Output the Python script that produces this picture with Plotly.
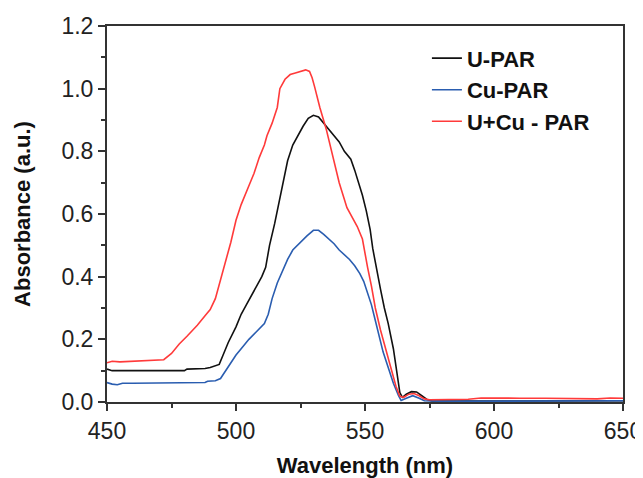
import plotly.graph_objects as go

# U-PAR (black)
u_wl = [450, 452, 460, 470, 480, 481, 488, 490, 492, 493.5, 495, 497, 500, 502, 504, 506, 508, 510,
        511.5, 513, 515, 517, 518.5, 520, 522, 524, 526, 528, 530, 532, 534, 536, 538, 540, 542,
        544.5, 546, 547.5, 549, 550.5, 552, 553, 554.5, 556, 557.5, 559, 561, 562.5, 563.5, 564.5,
        566, 568, 570, 572, 574, 576, 580, 590, 600, 610, 620, 630, 640, 650]
u_abs = [0.105, 0.100, 0.100, 0.100, 0.100, 0.105, 0.107, 0.110, 0.115, 0.120, 0.150, 0.190, 0.240,
         0.280, 0.310, 0.340, 0.370, 0.400, 0.430, 0.500, 0.570, 0.650, 0.720, 0.770, 0.820, 0.850,
         0.880, 0.905, 0.915, 0.910, 0.890, 0.870, 0.850, 0.830, 0.800, 0.775, 0.740, 0.700, 0.660,
         0.610, 0.550, 0.490, 0.420, 0.360, 0.300, 0.250, 0.170, 0.090, 0.030, 0.015, 0.025, 0.033,
         0.032, 0.020, 0.008, 0.003, 0.003, 0.003, 0.003, 0.004, 0.004, 0.003, 0.003, 0.004]

# Cu-PAR (blue)
cu_wl = [450, 452, 454, 456, 460, 470, 480, 488, 489, 492, 494, 496, 498, 500, 502, 505, 508, 511,
         512.5, 514, 516, 518, 520, 522, 525, 527.5, 530, 532, 534, 536, 538, 540, 542, 544, 546,
         548, 549.5, 551, 552.5, 554, 555.5, 557, 559, 561, 563, 564, 566, 568.5, 571, 573, 580,
         590, 600, 610, 620, 630, 640, 650]
cu_abs = [0.062, 0.057, 0.055, 0.060, 0.060, 0.060, 0.060, 0.062, 0.066, 0.068, 0.075, 0.100, 0.125,
          0.150, 0.170, 0.200, 0.225, 0.250, 0.280, 0.330, 0.380, 0.420, 0.455, 0.485, 0.510, 0.530,
          0.548, 0.548, 0.535, 0.520, 0.505, 0.485, 0.470, 0.455, 0.435, 0.410, 0.385, 0.350, 0.310,
          0.260, 0.210, 0.160, 0.110, 0.060, 0.020, 0.005, 0.012, 0.020, 0.012, 0.004, 0.002, 0.002,
          0.002, 0.003, 0.003, 0.002, 0.002, 0.004]

# U+Cu - PAR (red)
ucu_wl = [450, 452, 455, 460, 465, 470, 472, 475, 478, 481, 485, 488, 490, 492, 494, 496, 498, 500,
          502, 505, 507, 509, 511, 512, 514, 516, 517, 519, 521, 523, 525, 527, 528.5, 529.5, 530.5,
          532.5, 535, 537.5, 540, 543, 545, 547, 549, 550, 551, 552.5, 554, 556, 558, 560, 562,
          563.5, 565, 567, 569, 571, 573, 575, 580, 585, 590, 595, 600, 610, 620, 630, 640, 645, 650]
ucu_abs = [0.125, 0.130, 0.128, 0.130, 0.130, 0.132, 0.135, 0.155, 0.185, 0.210, 0.245, 0.275, 0.295,
           0.330, 0.390, 0.450, 0.510, 0.580, 0.630, 0.690, 0.730, 0.780, 0.820, 0.850, 0.890, 0.940,
           1.000, 1.030, 1.045, 1.050, 1.055, 1.060, 1.055, 1.035, 1.005, 0.940, 0.870, 0.785, 0.700,
           0.620, 0.590, 0.560, 0.520, 0.470, 0.430, 0.370, 0.300, 0.230, 0.170, 0.110, 0.050, 0.018,
           0.015, 0.025, 0.027, 0.020, 0.010, 0.007, 0.008, 0.010, 0.009, 0.013, 0.012, 0.012, 0.012,
           0.011, 0.010, 0.013, 0.012]

x_ticks = [450, 500, 550, 600, 650]
y_ticks = [0, 0.2, 0.4, 0.6, 0.8, 1.0, 1.2]

series = [
    ("U-PAR", u_wl, u_abs, "#111111"),
    ("Cu-PAR", cu_wl, cu_abs, "#2a5db0"),
    ("U+Cu - PAR", ucu_wl, ucu_abs, "#ff3a3a"),
]

FONT = "Liberation Sans, Arial"

fig = go.Figure()
for name, xs, ys, col in series:
    fig.add_trace(go.Scatter(x=xs, y=ys, mode="lines", name="<b>" + name + "</b>",
                             line=dict(color=col, width=1.6)))

axis_common = dict(
    showline=True, linecolor="#333333", linewidth=2, mirror=True,
    ticks="outside", ticklen=7, tickwidth=1.5, tickcolor="#333333",
    showgrid=False, zeroline=False, automargin=False,
    tickfont=dict(family=FONT, size=23, color="#222222"),
)

# page body has an 8px default margin, so the figure is sized to fit the window
fig.update_layout(
    width=635, height=470,
    margin=dict(l=99, r=20, t=18, b=76),
    paper_bgcolor="white", plot_bgcolor="white",
    showlegend=True,
    legend=dict(x=0.62, y=0.97, xanchor="left", yanchor="top",
                bgcolor="rgba(0,0,0,0)", borderwidth=0,
                font=dict(family=FONT, size=22, color="#111111"),
                tracegroupgap=0),
    font=dict(family=FONT),
)
fig.update_xaxes(range=[450, 650], tickvals=x_ticks,
                 minor=dict(ticks="outside", ticklen=4, tickwidth=1.5, tickcolor="#333333", dtick=25),
                 title=dict(text="<b>Wavelength (nm)</b>", standoff=17,
                            font=dict(family=FONT, size=22, color="#111111")),
                 **axis_common)
fig.update_yaxes(range=[0, 1.2], tickvals=y_ticks, tickformat=".1f",
                 minor=dict(ticks="outside", ticklen=4, tickwidth=1.5, tickcolor="#333333", dtick=0.1),
                 title=dict(text="<b>Absorbance (a.u.)</b>", standoff=25,
                            font=dict(family=FONT, size=22, color="#111111")),
                 **axis_common)

fig.write_html("out.html")
